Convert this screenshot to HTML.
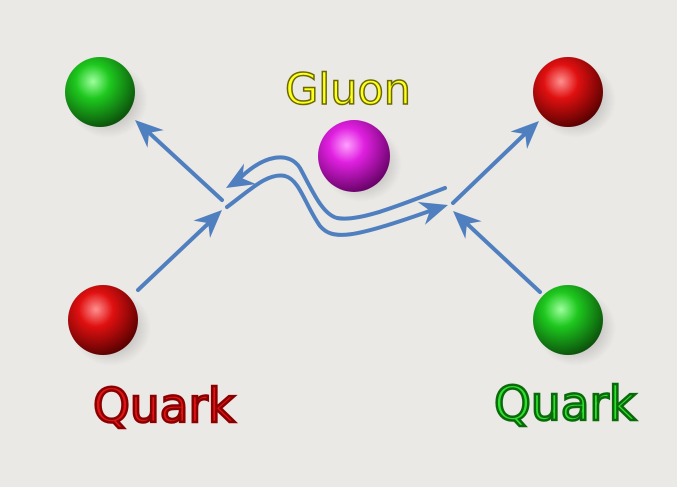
<!DOCTYPE html><html><head><style>body{margin:0;background:#ebe9e6}</style></head><body>
<svg width="677" height="482" viewBox="0 0 677 482" xmlns="http://www.w3.org/2000/svg">
<defs>
<radialGradient id="g" cx="0.4" cy="0.35" r="0.7"><stop offset="0" stop-color="#9dff9d"/><stop offset="0.35" stop-color="#1ec81e"/><stop offset="1" stop-color="#0a4a0a"/></radialGradient>
<radialGradient id="r" cx="0.4" cy="0.35" r="0.7"><stop offset="0" stop-color="#ff9090"/><stop offset="0.35" stop-color="#e01010"/><stop offset="1" stop-color="#500000"/></radialGradient>
<radialGradient id="m" cx="0.4" cy="0.35" r="0.7"><stop offset="0" stop-color="#ffa0ff"/><stop offset="0.35" stop-color="#e020e0"/><stop offset="1" stop-color="#600060"/></radialGradient>
<radialGradient id="s"><stop offset="0" stop-color="#000" stop-opacity="0.35"/><stop offset="1" stop-color="#000" stop-opacity="0"/></radialGradient>
</defs>
<rect width="677" height="482" fill="#ebe9e6"/>
<g>
<ellipse cx="108" cy="100" rx="40" ry="38" fill="url(#s)"/><circle cx="100" cy="92" r="35" fill="url(#g)"/>
<ellipse cx="576" cy="100" rx="40" ry="38" fill="url(#s)"/><circle cx="568" cy="92" r="35" fill="url(#r)"/>
<ellipse cx="111" cy="328" rx="40" ry="38" fill="url(#s)"/><circle cx="103" cy="320" r="35" fill="url(#r)"/>
<ellipse cx="576" cy="328" rx="40" ry="38" fill="url(#s)"/><circle cx="568" cy="320" r="35" fill="url(#g)"/>
<ellipse cx="362" cy="164" rx="40" ry="38" fill="url(#s)"/><circle cx="354" cy="156" r="36" fill="url(#m)"/>
</g>
<g stroke="#4f7fbf" stroke-width="4" fill="none" stroke-linecap="round">
<line x1="138" y1="290" x2="212" y2="220"/>
<line x1="222" y1="200" x2="145" y2="129"/>
<line x1="540" y1="292" x2="463" y2="220"/>
<line x1="453" y1="203" x2="529" y2="130"/>
<path d="M445,188 C400,205 360,222 337,218 C322,214 312,190 300,168 C290,152 265,152 236,182"/>
<path d="M227,207 C250,190 268,172 285,176 C300,180 305,205 320,226 C332,240 350,240 438,208"/>
</g>
<g fill="#4f7fbf">
<path d="M0,0 L-28,-12 L-19,0 L-28,12 Z" transform="translate(222,210) rotate(-43.6)"/>
<path d="M0,0 L-28,-12 L-19,0 L-28,12 Z" transform="translate(135,120) rotate(-137.4)"/>
<path d="M0,0 L-28,-12 L-19,0 L-28,12 Z" transform="translate(453,211) rotate(-137.1)"/>
<path d="M0,0 L-28,-12 L-19,0 L-28,12 Z" transform="translate(539,121) rotate(-43.6)"/>
<path d="M0,0 L-28,-12 L-19,0 L-28,12 Z" transform="translate(226,188) rotate(149.5)"/>
<path d="M0,0 L-28,-12 L-19,0 L-28,12 Z" transform="translate(448,205) rotate(-17.5)"/>
</g>
<g font-family="DejaVu Sans, sans-serif">
<text x="348" y="104" text-anchor="middle" font-size="43" fill="#ffff20" stroke="#6a6a00" stroke-width="1.5">Gluon</text>
<text x="164" y="422" text-anchor="middle" font-size="47" fill="#e01515" stroke="#8a0000" stroke-width="2.5">Quark</text>
<text x="565" y="420" text-anchor="middle" font-size="47" fill="#30e030" stroke="#0a6a0a" stroke-width="2.5">Quark</text>
</g>
</svg></body></html>
